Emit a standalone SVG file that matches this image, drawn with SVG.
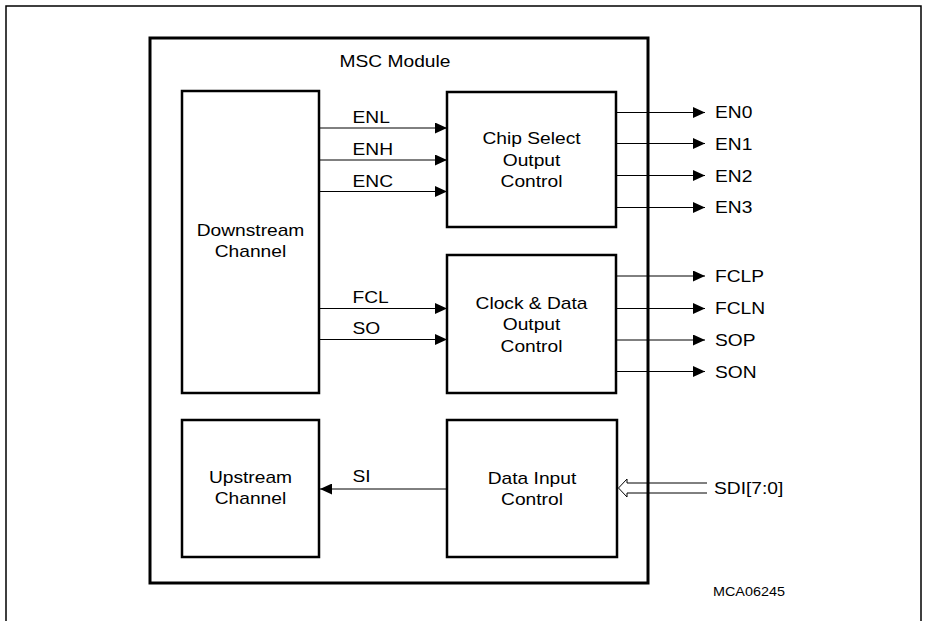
<svg xmlns="http://www.w3.org/2000/svg" width="927" height="621" viewBox="0 0 927 621">
<defs>
<style>
.box{fill:none;stroke:#000;stroke-width:2.5}
.frame{fill:none;stroke:#000;stroke-width:3}
.border{fill:none;stroke:#000;stroke-width:1.5}
.wire{fill:none;stroke:#000;stroke-width:1}
.t{font-family:"Liberation Sans",Arial,sans-serif;font-size:16px;fill:#000}
.c{text-anchor:middle}
.s{font-size:12.5px}
</style>
<marker id="ah" markerUnits="userSpaceOnUse" markerWidth="12" markerHeight="11" refX="12" refY="5.5" orient="auto">
<path d="M0,0 L12,5.5 L0,11 z" fill="#000"/>
</marker>
</defs>
<rect width="927" height="621" fill="#fff"/>
<path class="border" d="M6,621 V6 H921 V621"/>

<g id="msc-module">
<rect class="frame" x="150" y="38" width="498" height="545"/>
<text class="t c" transform="translate(395,67) scale(1.2,1)">MSC Module</text>
</g>

<g id="downstream-channel">
<rect class="box" x="182" y="91" width="137" height="302"/>
<text class="t c" transform="translate(250.5,236) scale(1.2,1)">Downstream</text>
<text class="t c" transform="translate(250.5,257) scale(1.2,1)">Channel</text>
</g>

<g id="chip-select">
<rect class="box" x="447" y="92" width="169" height="135"/>
<text class="t c" transform="translate(531.5,143.5) scale(1.2,1)">Chip Select</text>
<text class="t c" transform="translate(531.5,165.5) scale(1.2,1)">Output</text>
<text class="t c" transform="translate(531.5,187) scale(1.2,1)">Control</text>
</g>

<g id="clock-data">
<rect class="box" x="447" y="255" width="169" height="138"/>
<text class="t c" transform="translate(531.5,308.5) scale(1.2,1)">Clock &amp; Data</text>
<text class="t c" transform="translate(531.5,330) scale(1.2,1)">Output</text>
<text class="t c" transform="translate(531.5,351.5) scale(1.2,1)">Control</text>
</g>

<g id="upstream-channel">
<rect class="box" x="182" y="420" width="137" height="137"/>
<text class="t c" transform="translate(250.5,483) scale(1.2,1)">Upstream</text>
<text class="t c" transform="translate(250.5,504) scale(1.2,1)">Channel</text>
</g>

<g id="data-input">
<rect class="box" x="447" y="420" width="170" height="137"/>
<text class="t c" transform="translate(532,484) scale(1.2,1)">Data Input</text>
<text class="t c" transform="translate(532,505) scale(1.2,1)">Control</text>
</g>

<g id="connectors">
<line class="wire" x1="320" y1="128" x2="447" y2="128" marker-end="url(#ah)"/>
<line class="wire" x1="320" y1="160" x2="447" y2="160" marker-end="url(#ah)"/>
<line class="wire" x1="320" y1="191.5" x2="447" y2="191.5" marker-end="url(#ah)"/>
<line class="wire" x1="320" y1="308.5" x2="447" y2="308.5" marker-end="url(#ah)"/>
<line class="wire" x1="320" y1="339.5" x2="447" y2="339.5" marker-end="url(#ah)"/>
<line class="wire" x1="447" y1="489" x2="320" y2="489" marker-end="url(#ah)"/>

<line class="wire" x1="617" y1="112.5" x2="705" y2="112.5" marker-end="url(#ah)"/>
<line class="wire" x1="617" y1="143.5" x2="705" y2="143.5" marker-end="url(#ah)"/>
<line class="wire" x1="617" y1="175.5" x2="705" y2="175.5" marker-end="url(#ah)"/>
<line class="wire" x1="617" y1="207.5" x2="705" y2="207.5" marker-end="url(#ah)"/>
<line class="wire" x1="617" y1="276" x2="705" y2="276" marker-end="url(#ah)"/>
<line class="wire" x1="617" y1="308.5" x2="705" y2="308.5" marker-end="url(#ah)"/>
<line class="wire" x1="617" y1="340" x2="705" y2="340" marker-end="url(#ah)"/>
<line class="wire" x1="617" y1="371.5" x2="705" y2="371.5" marker-end="url(#ah)"/>

<path class="wire" d="M707,483 H627 V479 L618.5,488 L627,497 V493 H707"/>

<text class="t" transform="translate(352.5,123) scale(1.2,1)">ENL</text>
<text class="t" transform="translate(352.5,155) scale(1.2,1)">ENH</text>
<text class="t" transform="translate(352.5,187) scale(1.2,1)">ENC</text>
<text class="t" transform="translate(352.5,303) scale(1.2,1)">FCL</text>
<text class="t" transform="translate(352.5,334) scale(1.2,1)">SO</text>
<text class="t" transform="translate(352.5,482) scale(1.2,1)">SI</text>

<text class="t" transform="translate(715,118) scale(1.2,1)">EN0</text>
<text class="t" transform="translate(715,149.5) scale(1.2,1)">EN1</text>
<text class="t" transform="translate(715,181.5) scale(1.2,1)">EN2</text>
<text class="t" transform="translate(715,213) scale(1.2,1)">EN3</text>
<text class="t" transform="translate(715,282) scale(1.2,1)">FCLP</text>
<text class="t" transform="translate(715,314) scale(1.2,1)">FCLN</text>
<text class="t" transform="translate(715,345.5) scale(1.2,1)">SOP</text>
<text class="t" transform="translate(715,377.5) scale(1.2,1)">SON</text>
<text class="t" transform="translate(714,494) scale(1.2,1)">SDI[7:0]</text>
</g>

<text class="t s" transform="translate(713,596) scale(1.15,1)">MCA06245</text>
</svg>
